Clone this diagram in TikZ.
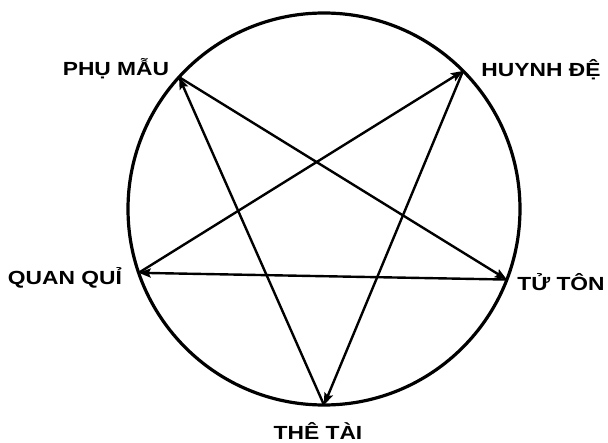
\documentclass[tikz,border=0pt]{standalone}
\usepackage{fontspec}
\setmainfont{Liberation Sans}
\usetikzlibrary{arrows.meta,calc}
\tikzset{
  rim/.style={line width=3.2pt},
  link/.style={line width=2.4pt,-{Stealth[length=12pt,width=9pt,inset=2pt]}},
  lbl/.style={inner sep=0pt,anchor=base,font=\fontsize{19}{19}\selectfont\bfseries}
}
\newcommand{\wide}[1]{\scalebox{1.2}[1]{#1}}
\begin{document}
\begin{tikzpicture}[x=1pt,y=1pt]
\useasboundingbox (0,0) rectangle (608,442);
\coordinate (c) at (324,233);
\draw[rim] (c) circle[radius=196];
\coordinate (pm) at ($(c)+(137.7:196)$);
\coordinate (hd) at ($(c)+(44.8:196)$);
\coordinate (qq) at ($(c)+(199:196)$);
\coordinate (tt) at ($(c)+(338.9:196)$);
\coordinate (ta) at ($(c)+(270:196)$);
\draw[link] (pm) -- (tt);
\draw[link] (tt) -- (qq);
\draw[link] (qq) -- (hd);
\draw[link] (hd) -- (ta);
\draw[link] (ta) -- (pm);
\node[lbl] (lpm) at (116,366) {\wide{PHỤ MẪU}};
\node[lbl] (lhd) at (541,365) {\wide{HUYNH ĐỆ}};
\node[lbl] (lqq) at (65,157) {\wide{QUAN QUỈ}};
\node[lbl] (ltt) at (561,151) {\wide{TỬ TÔN}};
\node[lbl] (lta) at (318,3) {\wide{THÊ TÀI}};
\end{tikzpicture}
\end{document}
